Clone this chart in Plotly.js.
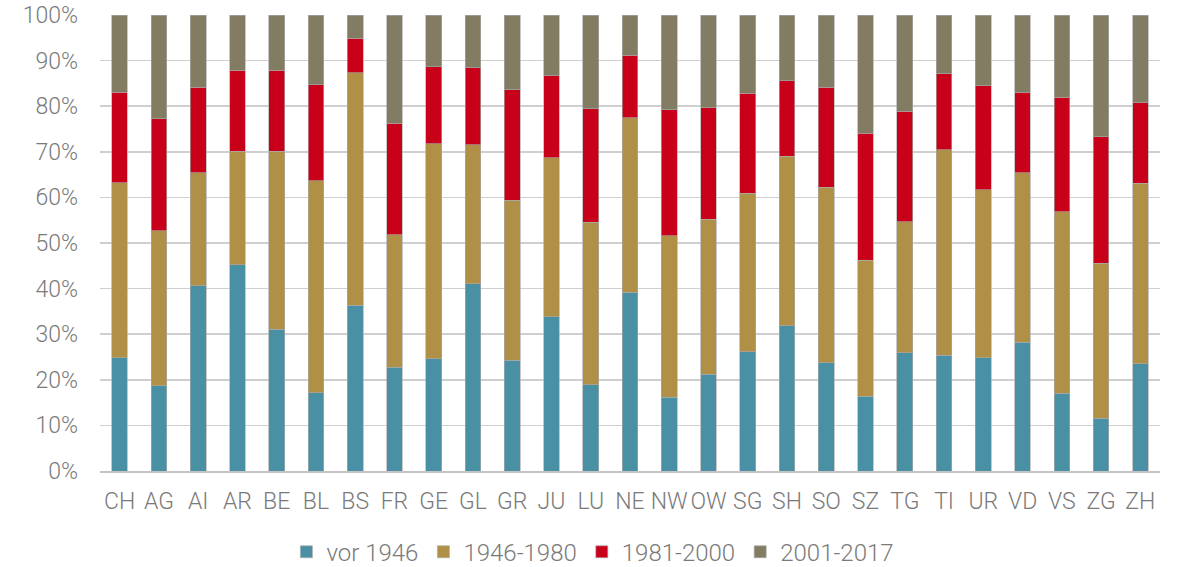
<!DOCTYPE html>
<html>
<head>
<meta charset="utf-8">
<script src="https://cdn.plot.ly/plotly-3.0.1.min.js"></script>
<style>
  html, body { margin: 0; padding: 0; background: #ffffff; }
  #chart { width: 1182px; height: 567px; }
</style>
</head>
<body>
<div id="chart"></div>
<script>
const categories = ["CH","AG","AI","AR","BE","BL","BS","FR","GE","GL","GR","JU","LU","NE","NW","OW","SG","SH","SO","SZ","TG","TI","UR","VD","VS","ZG","ZH"];
const seriesNames = ["vor 1946", "1946-1980", "1981-2000", "2001-2017"];
const vor1946   = [24.8,18.7,40.6,45.2,31.1,17.2,36.4,22.7,24.6,41.1,24.3,33.8,18.9,39.2,16.2,21.2,26.2,31.9,23.7,16.4,25.9,25.4,24.8,28.2,17.0,11.6,23.5];
const y1946_1980 = [38.4,34.0,24.8,24.9,39.0,46.5,50.9,29.1,47.2,30.4,35.1,34.9,35.7,38.3,35.4,34.0,34.7,37.1,38.5,29.8,28.8,45.0,36.9,37.2,39.9,34.0,39.6];
const y1981_2000 = [19.9,24.5,18.8,17.8,17.8,21.0,7.6,24.5,16.9,16.9,24.2,18.0,24.8,13.7,27.6,24.5,21.9,16.6,22.0,27.9,24.2,16.7,22.8,17.7,25.1,27.7,17.7];
const y2001_2017 = [16.9,22.8,15.8,12.1,12.1,15.3,5.1,23.7,11.3,11.6,16.4,13.3,20.6,8.8,20.8,20.3,17.2,14.4,15.8,25.9,21.1,12.9,15.5,16.9,18.0,26.7,19.2];
const colors = ["#4A90A4", "#B08F47", "#C8001A", "#827D62"];
const yTickVals = [0,10,20,30,40,50,60,70,80,90,100];

const allSeries = [vor1946, y1946_1980, y1981_2000, y2001_2017];
const traces = allSeries.map((vals, i) => ({
  type: "bar",
  name: seriesNames[i],
  x: categories,
  y: vals,
  marker: { color: colors[i], line: { color: "rgba(170,170,170,0.8)", width: 0.8 } },
  hoverinfo: "x+y+name"
}));

const font = { family: "Roboto, 'Open Sans', sans-serif", size: 23, color: "#7a7a7a", weight: 300 };
const legendFont = { family: "Roboto, 'Open Sans', sans-serif", size: 24, color: "#7a7a7a", weight: 300 };

const layout = {
  width: 1182,
  height: 567,
  margin: { l: 100, r: 22, t: 15, b: 96, autoexpand: false },
  paper_bgcolor: "#ffffff",
  plot_bgcolor: "#ffffff",
  barmode: "stack",
  barnorm: "percent",
  bargap: 0.6,
  font: font,
  showlegend: true,
  legend: {
    orientation: "h",
    x: 0.465, xanchor: "center",
    y: -0.178, yanchor: "middle",
    font: legendFont,
    traceorder: "normal",
    itemwidth: 30
  },
  xaxis: {
    type: "category",
    tickangle: 0,
    tickfont: font,
    showgrid: false,
    showline: true,
    linecolor: "#c4c4c4",
    linewidth: 2,
    ticks: "",
    ticklabelstandoff: 8
  },
  yaxis: {
    range: [0, 100],
    tickvals: yTickVals,
    ticktext: yTickVals.map(v => v + "%"),
    tickfont: font,
    showgrid: true,
    gridcolor: "#cfcfcf",
    gridwidth: 1.5,
    zeroline: false,
    showline: false,
    ticks: "",
    ticklabelstandoff: 21
  }
};

Plotly.newPlot("chart", traces, layout, { displayModeBar: false, staticPlot: true });
</script>
</body>
</html>
